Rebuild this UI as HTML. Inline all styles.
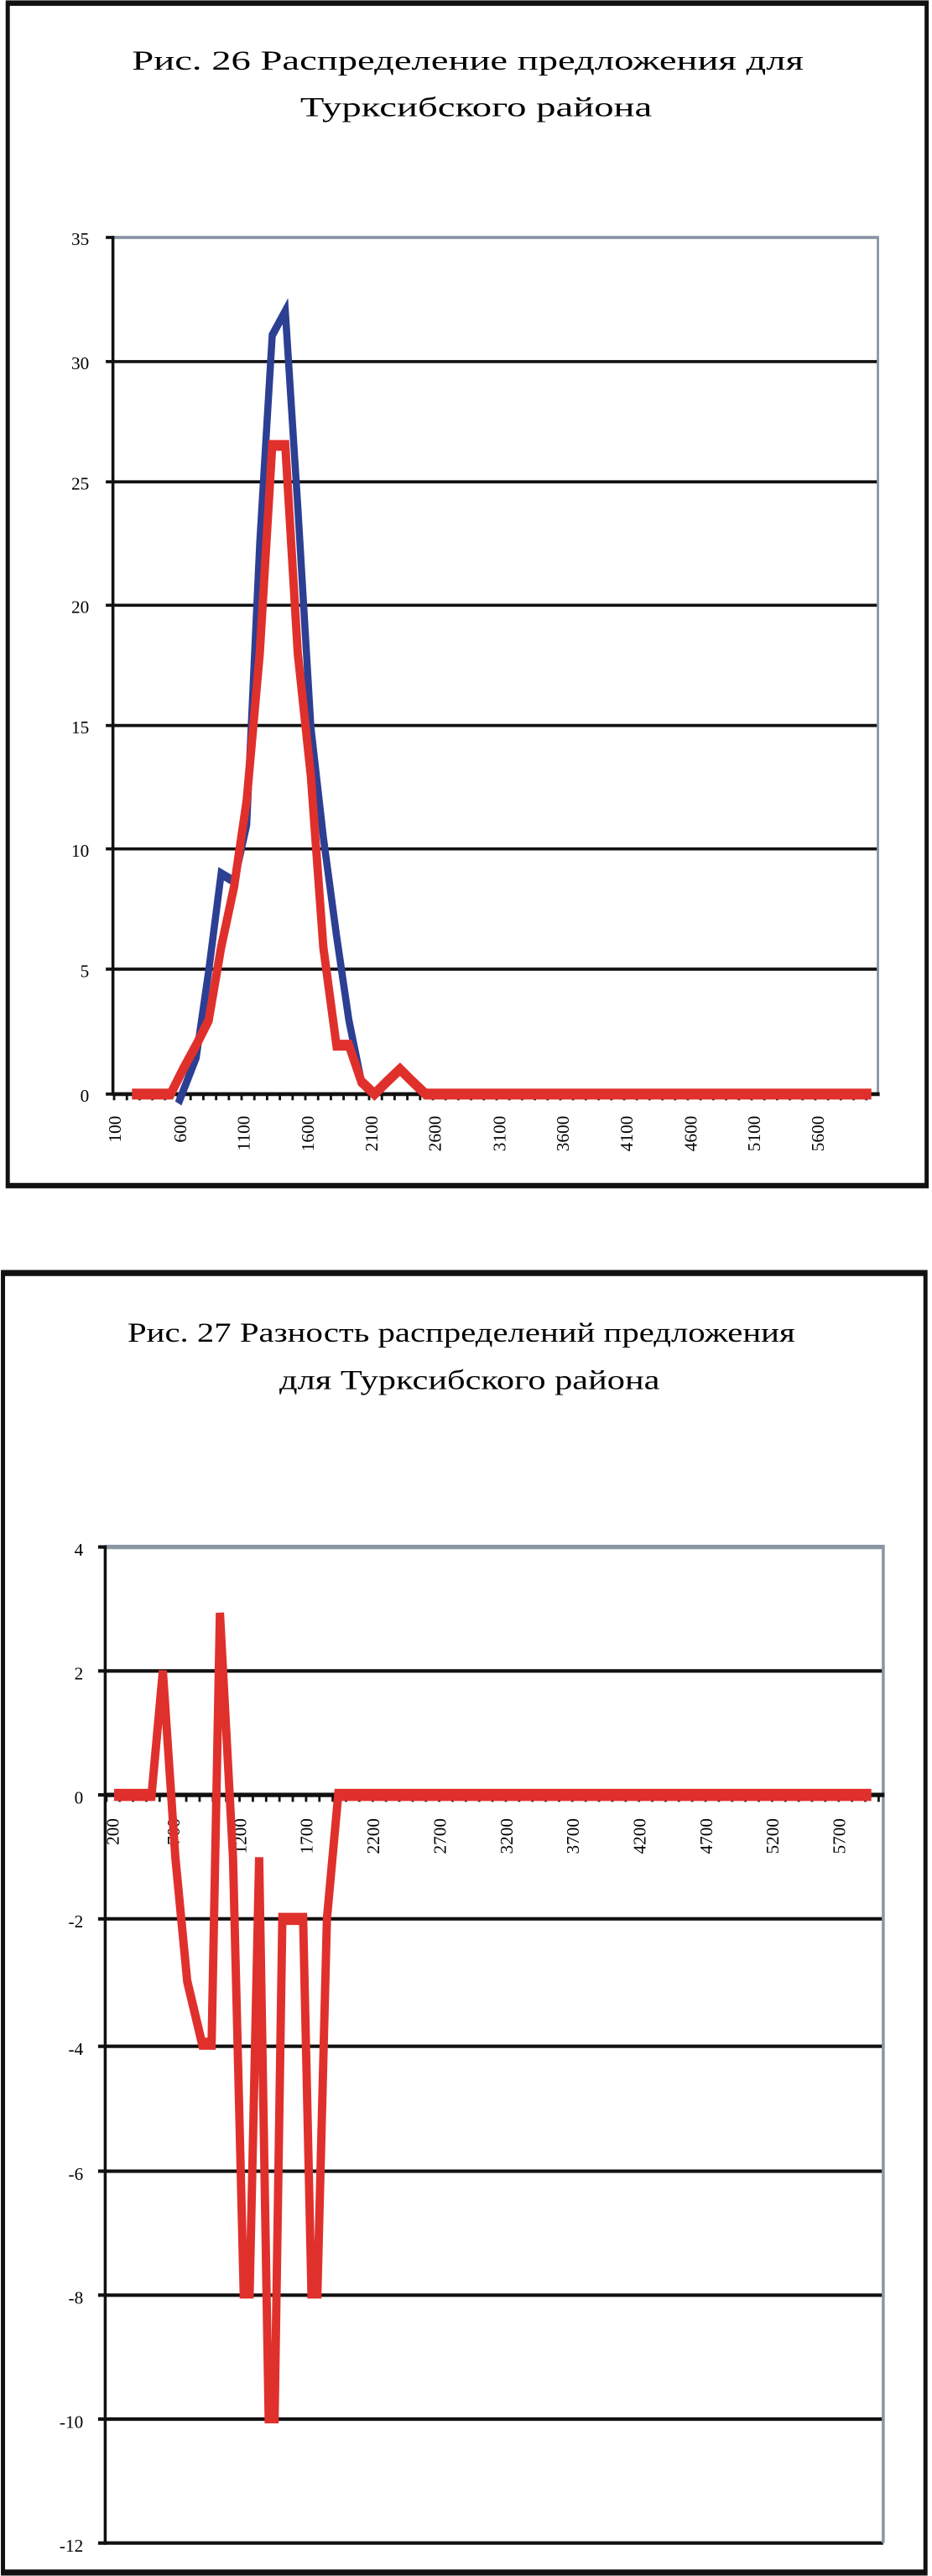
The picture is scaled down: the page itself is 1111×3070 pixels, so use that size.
<!DOCTYPE html>
<html><head><meta charset="utf-8"><style>html,body{margin:0;padding:0;background:#fff}svg{display:block;position:absolute;left:0}</style></head><body>
<svg style="top:0" width="1111" height="1450" viewBox="0 0 1568 1568" preserveAspectRatio="none" xmlns="http://www.w3.org/2000/svg" font-family="Liberation Serif, serif">
<rect x="0" y="0" width="1568" height="1568" fill="#fff"/>
<rect x="13" y="4" width="1546" height="1524" fill="none" stroke="#111" stroke-width="7"/>
<text transform="translate(787,90) scale(1,0.766)" font-size="46" text-anchor="middle" textLength="1130" lengthAdjust="spacingAndGlyphs">Рис. 26 Распределение предложения для</text>
<text transform="translate(801,150) scale(1,0.766)" font-size="46" text-anchor="middle" textLength="592" lengthAdjust="spacingAndGlyphs">Турксибского района</text>
<g stroke="#111" stroke-width="4">
<line x1="190" y1="466" x2="1477" y2="466"/><line x1="190" y1="621" x2="1477" y2="621"/>
<line x1="190" y1="780" x2="1477" y2="780"/><line x1="190" y1="935" x2="1477" y2="935"/>
<line x1="190" y1="1094" x2="1477" y2="1094"/><line x1="190" y1="1249" x2="1477" y2="1249"/>
</g>
<polyline points="190,306 1477,306 1477,1410" fill="none" stroke="#8a96a4" stroke-width="4"/>
<line x1="190" y1="304" x2="190" y2="1412" stroke="#111" stroke-width="5"/>
<line x1="190" y1="1410" x2="1480" y2="1410" stroke="#111" stroke-width="5"/>
<g stroke="#111" stroke-width="4">
<line x1="178" y1="306" x2="190" y2="306"/><line x1="178" y1="466" x2="190" y2="466"/><line x1="178" y1="621" x2="190" y2="621"/><line x1="178" y1="780" x2="190" y2="780"/><line x1="178" y1="935" x2="190" y2="935"/><line x1="178" y1="1094" x2="190" y2="1094"/><line x1="178" y1="1249" x2="190" y2="1249"/><line x1="178" y1="1410" x2="190" y2="1410"/>
</g>
<line x1="190" y1="1414" x2="1477" y2="1414" stroke="#111" stroke-width="8" stroke-dasharray="4 17.45"/>
<g font-size="30" text-anchor="end">
<text transform="translate(150,316) scale(1,0.766)">35</text><text transform="translate(150,476) scale(1,0.766)">30</text><text transform="translate(150,631) scale(1,0.766)">25</text><text transform="translate(150,790) scale(1,0.766)">20</text><text transform="translate(150,945) scale(1,0.766)">15</text><text transform="translate(150,1104) scale(1,0.766)">10</text><text transform="translate(150,1259) scale(1,0.766)">5</text><text transform="translate(150,1420) scale(1,0.766)">0</text>
</g>
<g font-size="30" text-anchor="end">
<text transform="translate(203,1438) scale(1,0.766) rotate(-90)">100</text>
<text transform="translate(313,1438) scale(1,0.766) rotate(-90)">600</text>
<text transform="translate(420,1438) scale(1,0.766) rotate(-90)">1100</text>
<text transform="translate(528,1438) scale(1,0.766) rotate(-90)">1600</text>
<text transform="translate(635,1438) scale(1,0.766) rotate(-90)">2100</text>
<text transform="translate(742,1438) scale(1,0.766) rotate(-90)">2600</text>
<text transform="translate(850,1438) scale(1,0.766) rotate(-90)">3100</text>
<text transform="translate(957,1438) scale(1,0.766) rotate(-90)">3600</text>
<text transform="translate(1064,1438) scale(1,0.766) rotate(-90)">4100</text>
<text transform="translate(1172,1438) scale(1,0.766) rotate(-90)">4600</text>
<text transform="translate(1279,1438) scale(1,0.766) rotate(-90)">5100</text>
<text transform="translate(1386,1438) scale(1,0.766) rotate(-90)">5600</text>
</g>
<polyline fill="none" stroke="#2c3f93" stroke-width="12" points="300,1422 330,1363 351,1252 372,1126 394,1136 415,1063 437,700 458,432 480,401 501,653 523,937 544,1079 566,1205 587,1315 608,1394 630,1410"/>
<polyline fill="none" stroke="#e0302c" stroke-width="14" points="222,1410 244,1410 265,1410 287,1410 308,1378 330,1347 351,1315 372,1221 394,1142 415,1032 437,842 458,574 480,574 501,842 523,1000 544,1221 566,1347 587,1347 608,1394 630,1410 651,1394 673,1378 694,1394 716,1410 1466,1410"/>
</svg>
<svg style="top:1450px" width="1111" height="1620" viewBox="0 0 1568 1568" preserveAspectRatio="none" xmlns="http://www.w3.org/2000/svg" font-family="Liberation Serif, serif">
<rect x="0" y="0" width="1568" height="1568" fill="#fff"/>
<rect x="5" y="65" width="1552" height="1499" fill="none" stroke="#111" stroke-width="7"/>
<text transform="translate(776,144) scale(1,0.686)" font-size="46" text-anchor="middle" textLength="1123" lengthAdjust="spacingAndGlyphs">Рис. 27 Разность распределений предложения</text>
<text transform="translate(790,199) scale(1,0.686)" font-size="46" text-anchor="middle" textLength="640" lengthAdjust="spacingAndGlyphs">для  Турксибского района</text>
<g stroke="#111" stroke-width="4">
<line x1="177" y1="524" x2="1486" y2="524"/><line x1="177" y1="810" x2="1486" y2="810"/>
<line x1="177" y1="957" x2="1486" y2="957"/><line x1="177" y1="1101" x2="1486" y2="1101"/>
<line x1="177" y1="1244" x2="1486" y2="1244"/><line x1="177" y1="1387" x2="1486" y2="1387"/>
<line x1="177" y1="1530" x2="1486" y2="1530"/>
</g>
<polyline points="177,381 1486,381 1486,1530" fill="none" stroke="#8a96a4" stroke-width="5"/>
<line x1="177" y1="379" x2="177" y2="1532" stroke="#111" stroke-width="5"/>
<line x1="177" y1="667" x2="1488" y2="667" stroke="#111" stroke-width="5"/>
<line x1="177" y1="671" x2="1486" y2="671" stroke="#111" stroke-width="8" stroke-dasharray="4 18.4"/>
<g stroke="#111" stroke-width="4">
<line x1="165" y1="381" x2="177" y2="381"/><line x1="165" y1="524" x2="177" y2="524"/><line x1="165" y1="667" x2="177" y2="667"/><line x1="165" y1="810" x2="177" y2="810"/><line x1="165" y1="957" x2="177" y2="957"/><line x1="165" y1="1101" x2="177" y2="1101"/><line x1="165" y1="1244" x2="177" y2="1244"/><line x1="165" y1="1387" x2="177" y2="1387"/><line x1="165" y1="1530" x2="177" y2="1530"/>
</g>
<g font-size="30" text-anchor="end">
<text transform="translate(140,391) scale(1,0.686)">4</text><text transform="translate(140,534) scale(1,0.686)">2</text><text transform="translate(140,677) scale(1,0.686)">0</text><text transform="translate(140,820) scale(1,0.686)">-2</text><text transform="translate(140,967) scale(1,0.686)">-4</text><text transform="translate(140,1111) scale(1,0.686)">-6</text><text transform="translate(140,1254) scale(1,0.686)">-8</text><text transform="translate(140,1397) scale(1,0.686)">-10</text><text transform="translate(140,1540) scale(1,0.686)">-12</text>
</g>
<g font-size="30" text-anchor="end">
<text transform="translate(200,694) scale(1,0.686) rotate(-90)">200</text>
<text transform="translate(302,694) scale(1,0.686) rotate(-90)">700</text>
<text transform="translate(414,694) scale(1,0.686) rotate(-90)">1200</text>
<text transform="translate(526,694) scale(1,0.686) rotate(-90)">1700</text>
<text transform="translate(638,694) scale(1,0.686) rotate(-90)">2200</text>
<text transform="translate(750,694) scale(1,0.686) rotate(-90)">2700</text>
<text transform="translate(862,694) scale(1,0.686) rotate(-90)">3200</text>
<text transform="translate(974,694) scale(1,0.686) rotate(-90)">3700</text>
<text transform="translate(1086,694) scale(1,0.686) rotate(-90)">4200</text>
<text transform="translate(1198,694) scale(1,0.686) rotate(-90)">4700</text>
<text transform="translate(1310,694) scale(1,0.686) rotate(-90)">5200</text>
<text transform="translate(1422,694) scale(1,0.686) rotate(-90)">5700</text>
</g>
<polyline fill="none" stroke="#e0302c" stroke-width="14" points="192,667 255,667 274,524 295,739 315,882 340,954 356,954 370,457 392,739 410,1241 420,1241 436,739 452,1385 462,1385 475,810 510,810 524,1241 534,1241 550,810 569,667 1466,667"/>
</svg>
</body></html>
